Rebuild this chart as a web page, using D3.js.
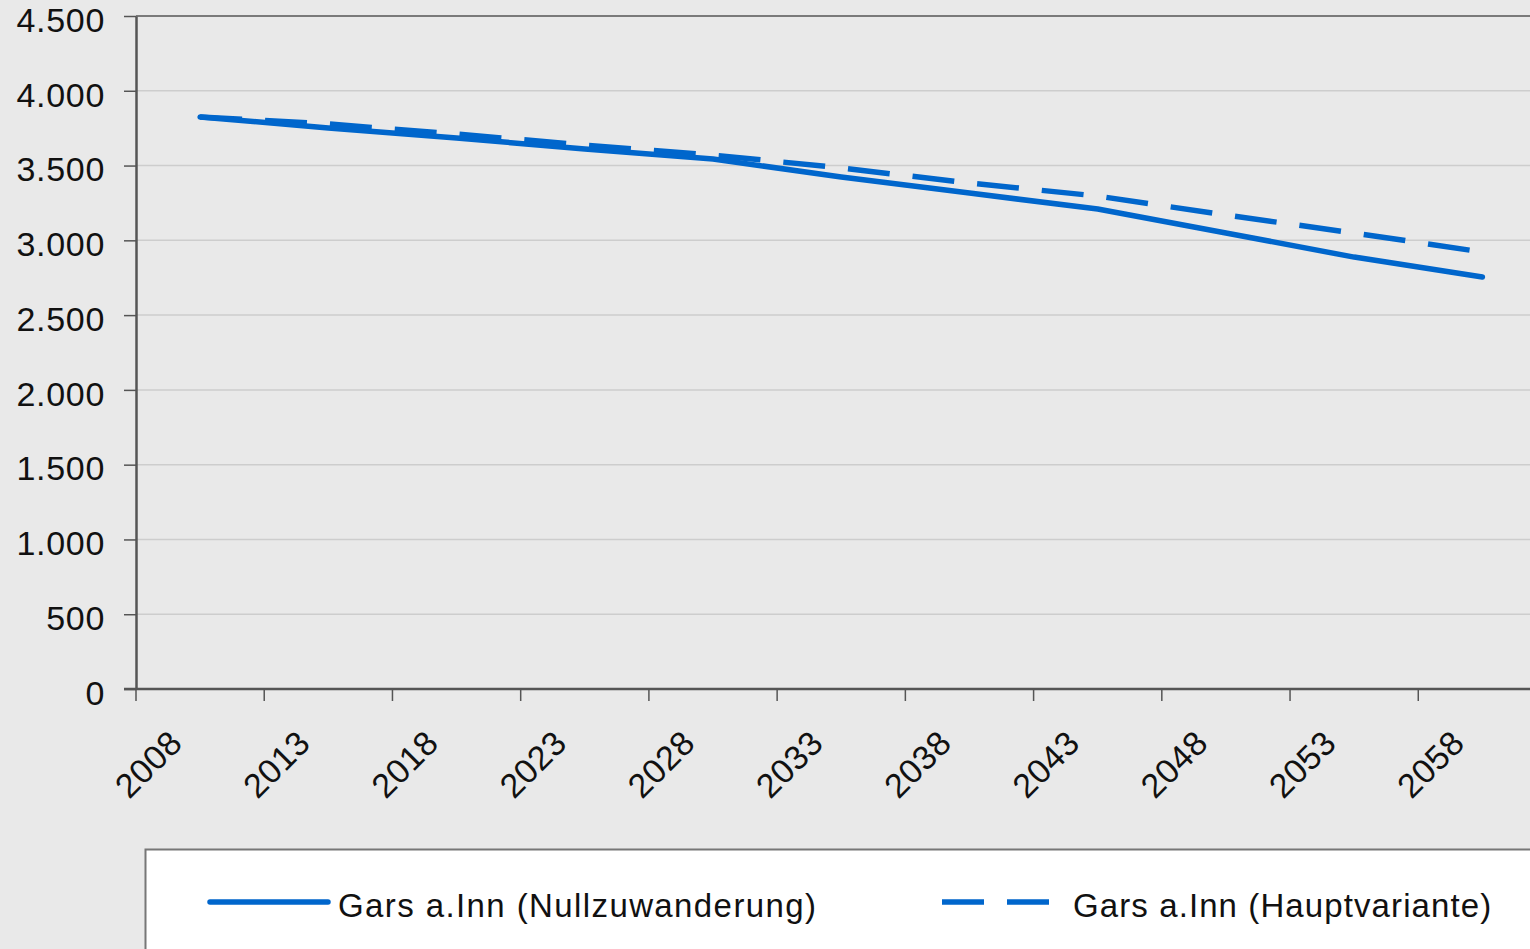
<!DOCTYPE html>
<html>
<head>
<meta charset="utf-8">
<script src="https://cdn.jsdelivr.net/npm/d3@7"></script>
<style>
  html, body { margin: 0; padding: 0; background: #e9e9e9; overflow: hidden; }
  svg { display: block; font-family: "Liberation Sans", Arial, sans-serif; }
</style>
</head>
<body>
<svg id="chart" width="1530" height="949"></svg>
<script>
// --- data ---
const years = ['2008', '2013', '2018', '2023', '2028', '2033', '2038', '2043', '2048', '2053', '2058'];
const nullzuwanderung = [3825, 3751, 3684, 3611, 3544, 3423, 3316, 3209, 3049, 2888, 2755];
const hauptvariante = [3825, 3778, 3711, 3637, 3570, 3484, 3383, 3296, 3169, 3049, 2922];
const yTicks = [0, 500, 1000, 1500, 2000, 2500, 3000, 3500, 4000, 4500];
const yTickLabels = ['0', '500', '1.000', '1.500', '2.000', '2.500', '3.000', '3.500', '4.000', '4.500'];
const seriesNames = ['Gars a.Inn (Nullzuwanderung)', 'Gars a.Inn (Hauptvariante)'];

const blue = '#0066cc';
const axisColor = '#555';

const svg = d3.select('#chart');

// plot frame
const plotLeft = 136, plotTop = 16, plotBottom = 689, plotRight = 1546.5;

const x = d3.scaleBand().domain(years).range([plotLeft, plotRight]).paddingInner(0).paddingOuter(0);
const y = d3.scaleLinear().domain([0, 4500]).range([plotBottom, plotTop]);
const bw = x.bandwidth();

// gridlines
svg.append('g')
  .selectAll('line')
  .data(yTicks.filter(d => d > 0 && d < 4500))
  .join('line')
  .attr('x1', plotLeft).attr('x2', 1530)
  .attr('y1', d => y(d)).attr('y2', d => y(d))
  .attr('stroke', '#cdcdcd')
  .attr('stroke-width', 1.5);

// top border of plot area
svg.append('line')
  .attr('x1', plotLeft).attr('x2', 1530)
  .attr('y1', y(4500)).attr('y2', y(4500))
  .attr('stroke', '#7a7a7a')
  .attr('stroke-width', 2);

// y axis
const yAxis = svg.append('g')
  .attr('transform', `translate(${plotLeft},0)`)
  .call(d3.axisLeft(y)
    .tickValues(yTicks)
    .tickFormat((d, i) => yTickLabels[i])
    .tickSize(12)
    .tickSizeOuter(0)
    .tickPadding(19));
yAxis.select('.domain').attr('stroke', axisColor).attr('stroke-width', 2.5);
yAxis.selectAll('.tick line').attr('stroke', axisColor).attr('stroke-width', 1.5);
yAxis.selectAll('.tick text')
  .attr('fill', '#111')
  .attr('font-size', 34)
  .attr('letter-spacing', 0.7)
  .attr('dy', '0.45em');

// x axis
const xAxis = svg.append('g')
  .attr('transform', `translate(0,${plotBottom})`)
  .call(d3.axisBottom(x).tickSize(12).tickSizeOuter(0));
xAxis.select('.domain')
  .attr('d', `M${plotLeft - 12},0H1530`)
  .attr('stroke', axisColor).attr('stroke-width', 2.5);
xAxis.selectAll('.tick line')
  .attr('x1', -bw / 2).attr('x2', -bw / 2)
  .attr('stroke', axisColor).attr('stroke-width', 1.5);
xAxis.selectAll('.tick text')
  .attr('fill', '#111')
  .attr('font-size', 34)
  .attr('letter-spacing', 0.5)
  .attr('text-anchor', 'end')
  .attr('y', 0).attr('dy', 0)
  .attr('transform', 'translate(-16,56) rotate(-45)');

// lines
const line = d3.line()
  .x((d, i) => x(years[i]) + bw / 2)
  .y(d => y(d));

svg.append('path')
  .datum(hauptvariante)
  .attr('d', line)
  .attr('fill', 'none')
  .attr('stroke', blue)
  .attr('stroke-width', 5.5)
  .attr('stroke-dasharray', '42,23');

svg.append('path')
  .datum(nullzuwanderung)
  .attr('d', line)
  .attr('fill', 'none')
  .attr('stroke', blue)
  .attr('stroke-width', 5.5)
  .attr('stroke-linecap', 'round')
  .attr('stroke-linejoin', 'round');

// legend
const legend = svg.append('g');
legend.append('rect')
  .attr('x', 145.5).attr('y', 849.5)
  .attr('width', 1420).attr('height', 140)
  .attr('fill', '#fff')
  .attr('stroke', '#777')
  .attr('stroke-width', 2);

legend.append('line')
  .attr('x1', 210).attr('x2', 328)
  .attr('y1', 902).attr('y2', 902)
  .attr('stroke', blue).attr('stroke-width', 5.5)
  .attr('stroke-linecap', 'round');
legend.append('text')
  .attr('x', 338).attr('y', 917)
  .attr('font-size', 33)
  .attr('letter-spacing', 1.4)
  .attr('fill', '#111')
  .text(seriesNames[0]);

legend.append('line')
  .attr('x1', 942).attr('x2', 1049)
  .attr('y1', 902).attr('y2', 902)
  .attr('stroke', blue).attr('stroke-width', 5.5)
  .attr('stroke-dasharray', '42,23');
legend.append('text')
  .attr('x', 1073).attr('y', 917)
  .attr('font-size', 33)
  .attr('letter-spacing', 1.1)
  .attr('fill', '#111')
  .text(seriesNames[1]);
</script>
</body>
</html>
